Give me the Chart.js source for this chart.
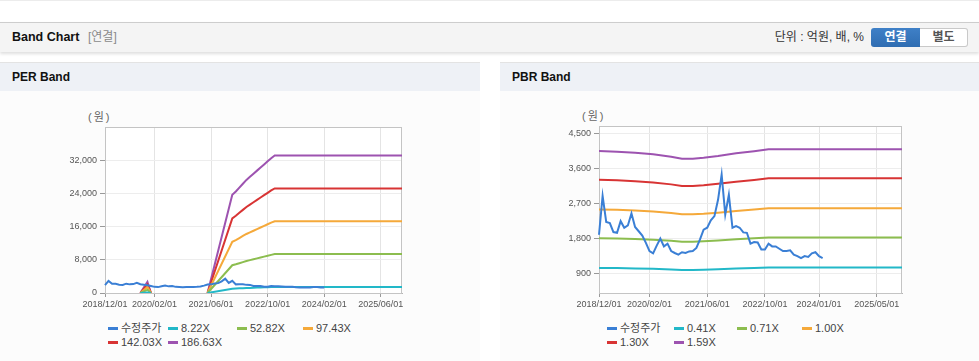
<!DOCTYPE html>
<html><head><meta charset="utf-8">
<script src="https://cdn.jsdelivr.net/npm/chart.js@4.4.1/dist/chart.umd.min.js"></script>
<style>
html,body{margin:0;padding:0;}
body{width:979px;height:361px;position:relative;overflow:hidden;background:#fff;font-family:"Liberation Sans",Arial,"Noto Sans CJK KR",sans-serif;}
.abs{position:absolute;}
#topline{left:0;top:0;width:979px;height:1px;background:#ececec;}
#bar{left:0;top:22px;width:979px;height:29px;border-top:1px solid #cdcdcd;background:#f4f4f4;box-shadow:0 2px 3px rgba(0,0,0,0.13);}
#barTitle{left:12px;top:23px;height:29px;line-height:29px;font-size:12.5px;font-weight:bold;color:#111;}
#barSub{left:88px;top:23px;height:29px;line-height:29px;font-size:12px;color:#8a8a8a;}
#unit{right:115px;top:23px;height:29px;line-height:29px;font-size:12px;color:#333;}
#btn1{left:871px;top:28px;width:49px;height:19px;line-height:19px;text-align:center;font-size:12px;font-weight:bold;color:#fff;background:linear-gradient(#3f80c7,#2f6db2);border-radius:3px 0 0 3px;}
#btn2{left:920px;top:28px;width:47px;height:17px;line-height:17px;text-align:center;font-size:12px;font-weight:bold;color:#555;background:#fff;border:1px solid #c9c9c9;border-left:none;border-radius:0 3px 3px 0;}
.phead{top:62px;height:28px;border-top:1px solid #e3e3e3;background:#eef1f6;line-height:29px;font-size:12px;font-weight:bold;color:#111;}
.pbody{top:91px;height:270px;background:#fcfcfc;}
.unitlbl{font-size:11px;color:#666;letter-spacing:2px;}
.leg{font-size:11px;color:#444;white-space:nowrap;height:14px;line-height:14px;}
.leg i{position:absolute;left:0;top:6px;width:10px;height:3px;}
.leg span{position:absolute;left:13px;top:0;}
canvas{position:absolute;}
</style>
</head><body>
<div id="topline" class="abs"></div>
<div id="bar" class="abs"></div>
<div id="barTitle" class="abs">Band Chart</div>
<div id="barSub" class="abs">[연결]</div>
<div id="unit" class="abs">단위 : 억원, 배, %</div>
<div id="btn1" class="abs">연결</div>
<div id="btn2" class="abs">별도</div>

<div class="abs pbody" style="left:0;width:480px;"></div>
<div class="abs pbody" style="left:500px;width:479px;"></div>
<div class="abs phead" style="left:0;width:468px;padding-left:12px;">PER Band</div>
<div class="abs phead" style="left:500px;width:467px;padding-left:12px;">PBR Band</div>
<div class="abs unitlbl" style="left:88px;top:108px;">(원)</div>
<div class="abs unitlbl" style="left:582px;top:107px;">(원)</div>

<canvas id="per" width="480" height="215" style="left:0;top:100px;"></canvas>
<canvas id="pbr" width="479" height="215" style="left:500px;top:100px;"></canvas>
<div id="perLegend"></div>
<div id="pbrLegend"></div>

<script>
// ---- categories (monthly, 2018/12 .. 2025/12) ----
const months = [];
for (let y = 2018, m = 12, i = 0; i < 85; i++) {
  months.push(y + '/' + String(m).padStart(2, '0') + '/01');
  m++; if (m > 12) { m = 1; y++; }
}
const perTickLabels = ['2018/12/01','2020/02/01','2021/06/01','2022/10/01','2024/02/01','2025/06/01'];
const pbrTickLabels = ['2018/12/01','2020/02/01','2021/06/01','2022/10/01','2024/01/01','2025/05/01'];
const perYTicks = [0, 8000, 16000, 24000, 32000];
const pbrYTicks = [900, 1800, 2700, 3600, 4500];

// ---- 수정주가 (monthly from 2018/12) ----
const price = [1900,2900,2230,2200,1970,1950,2250,2080,2140,2450,
               2100,1990,1880,1690,1480,1420,1620,1800,1600,1670,
               1480,1430,1390,1450,1430,1470,1480,1560,1780,2030,
               2080,2270,2380,2800,3450,2420,2930,2080,2120,2080,
               1960,1950,1670,1710,1700,1520,1520,1670,1600,1600,
               1540,1480,1480,1500,1390,1350,1300,1350,1330,1420,
               1450,1350,1300];

// ---- PER bands: [month index, value] ----
const perNames = ['수정주가','8.22X','52.82X','97.43X','142.03X','186.63X'];
const per822  = [[10,0],[12,119],[13,0],[29,0],[36,1041],[37,1077],[38,1118],[39,1159],[40,1200],[41,1233],[42,1266],[43,1299],[44,1332],[45,1365],[46,1397],[47,1430],[48,1459],[84,1459]];
const per5282 = [[10,0],[12,766],[13,0],[29,0],[36,6692],[37,6919],[38,7184],[39,7448],[40,7712],[41,7923],[42,8134],[43,8346],[44,8557],[45,8768],[46,8979],[47,9191],[48,9376],[84,9376]];
const per9743 = [[10,0],[12,1413],[13,0],[29,0],[36,12344],[37,12763],[38,13250],[39,13738],[40,14225],[41,14615],[42,15004],[43,15394],[44,15784],[45,16173],[46,16563],[47,16953],[48,17294],[84,17294]];
const per14203= [[10,0],[12,2059],[13,0],[29,0],[36,17995],[37,18606],[38,19316],[39,20026],[40,20736],[41,21305],[42,21873],[43,22441],[44,23009],[45,23577],[46,24145],[47,24713],[48,25210],[84,25210]];
const per18663= [[10,0],[12,2706],[13,0],[29,0],[36,23646],[37,24449],[38,25382],[39,26315],[40,27248],[41,27995],[42,28741],[43,29488],[44,30234],[45,30981],[46,31727],[47,32474],[48,33127],[84,33127]];

// ---- PBR bands: [month index, value] ----
const pbrNames = ['수정주가','0.41X','0.71X','1.00X','1.30X','1.59X'];
const pbr041 = [[0,1046],[5,1042],[10,1034],[15,1024],[20,1008],[23,994],[26,994],[29,1000],[33,1012],[38,1030],[43,1044],[47,1057],[84,1057]];
const pbr071 = [[0,1811],[5,1804],[10,1791],[15,1773],[20,1746],[23,1722],[26,1722],[29,1732],[33,1753],[38,1784],[43,1808],[47,1831],[84,1831]];
const pbr100 = [[0,2550],[5,2541],[10,2522],[15,2497],[20,2459],[23,2425],[26,2425],[29,2440],[33,2469],[38,2513],[43,2547],[47,2579],[84,2579]];
const pbr130 = [[0,3315],[5,3303],[10,3279],[15,3246],[20,3197],[23,3153],[26,3153],[29,3172],[33,3210],[38,3267],[43,3311],[47,3353],[84,3353]];
const pbr159 = [[0,4055],[5,4040],[10,4010],[15,3970],[20,3910],[23,3856],[26,3856],[29,3880],[33,3926],[38,3996],[43,4050],[47,4101],[84,4101]];

const colors = ['#3a7fd5','#22b8c8','#8cbd4f','#f5a93a','#d83434','#9d53b0'];

function pts(arr) { return arr.map(p => ({x: months[p[0]], y: p[1]})); }

const framePlugin = {
  id: 'frame',
  beforeDraw(chart) {
    const a = chart.chartArea, c = chart.ctx;
    c.save(); c.fillStyle = '#ffffff';
    c.fillRect(a.left, a.top, a.right - a.left, a.bottom - a.top);
    c.restore();
  },
  beforeDatasetsDraw(chart) {
    const a = chart.chartArea, c = chart.ctx;
    c.save(); c.strokeStyle = '#c4c4c4'; c.lineWidth = 1;
    c.strokeRect(Math.round(a.left) + 0.5, Math.round(a.top) + 0.5, Math.round(a.right - a.left) - 1, Math.round(a.bottom - a.top));
    c.restore();
  }
};

Chart.defaults.font.family = '"Liberation Sans", Arial, sans-serif';
Chart.defaults.font.size = 9;
Chart.defaults.color = '#555';

function makeChart(id, names, series, xTicks, yTicks, yMin, yMax, pad) {
  const datasets = [{
    label: names[0], data: price, borderColor: colors[0], borderWidth: 2,
    pointRadius: 0, tension: 0, spanGaps: false
  }];
  series.forEach((s, k) => datasets.push({
    label: names[k + 1], data: pts(s), borderColor: colors[k + 1], borderWidth: 2,
    pointRadius: 0, tension: 0,
    segment: { borderColor: ctx => (ctx.p0.parsed.y === 0 && ctx.p1.parsed.y === 0) ? 'rgba(0,0,0,0)' : undefined }
  }));
  return new Chart(document.getElementById(id), {
    type: 'line',
    data: { labels: months, datasets },
    plugins: [framePlugin],
    options: {
      responsive: false, animation: false, devicePixelRatio: 1,
      layout: { padding: pad },
      plugins: { legend: { display: false }, tooltip: { enabled: false } },
      scales: {
        x: {
          type: 'category',
          afterBuildTicks: s => { s.ticks = s.ticks.filter(t => xTicks.includes(months[t.value])); },
          afterFit: s => { s.height = 20; },
          ticks: { autoSkip: false, maxRotation: 0, padding: 2, color: '#555' },
          grid: { color: '#e4e4e4', tickColor: '#999', tickLength: 4 },
          border: { color: '#b4b4b4' }
        },
        y: {
          min: yMin, max: yMax,
          afterBuildTicks: s => { s.ticks = yTicks.map(v => ({ value: v })); },
          afterFit: s => { s.width = 60; },
          ticks: { padding: 3, color: '#555', callback: v => Number(v).toLocaleString('en-US') },
          grid: { color: '#ededed', tickColor: '#999', tickLength: 5 },
          border: { color: '#b4b4b4' }
        }
      }
    }
  });
}

makeChart('per', perNames, [per822, per5282, per9743, per14203, per18663], perTickLabels, perYTicks, 0, 40000,
  { left: 45, right: 78, top: 27, bottom: 2 });
makeChart('pbr', pbrNames, [pbr041, pbr071, pbr100, pbr130, pbr159], pbrTickLabels, pbrYTicks, 400, 4700,
  { left: 39, right: 77, top: 26, bottom: 2 });

// ---- HTML legends ----
function legend(names, xs, y0) {
  const rowY = [y0, y0 + 14];
  names.forEach((n, i) => {
    const d = document.createElement('div');
    d.className = 'abs leg';
    d.style.left = xs[i % 4] + 'px';
    d.style.top = (rowY[Math.floor(i / 4)] - 7) + 'px';
    d.innerHTML = '<i style="background:' + colors[i] + '"></i><span>' + n + '</span>';
    document.body.appendChild(d);
  });
}
legend(perNames, [108, 168, 237, 303], 328);
legend(pbrNames, [607, 674, 737, 802], 328);
</script>
</body></html>
